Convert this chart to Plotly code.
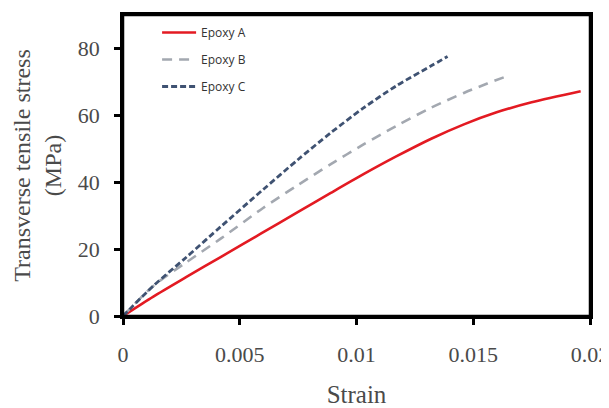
import plotly.graph_objects as go

strain_a = [0, 0.0013, 0.0027, 0.0042, 0.0059, 0.0075, 0.0089, 0.0103, 0.0117, 0.0132, 0.0146, 0.0160, 0.0175, 0.0196]
stress_a = [0, 5.8, 11.6, 17.7, 24.6, 31.1, 36.8, 42.4, 47.7, 53.0, 57.3, 60.9, 63.9, 67.2]

strain_b = [0, 0.0013, 0.0027, 0.0042, 0.006, 0.0075, 0.0089, 0.0103, 0.0117, 0.0132, 0.0146, 0.0156, 0.0164]
stress_b = [0, 9.0, 16.0, 23.2, 32.3, 39.2, 45.4, 51.3, 56.8, 62.3, 66.7, 69.5, 71.6]

strain_c = [0, 0.0013, 0.0027, 0.0042, 0.006, 0.0075, 0.0089, 0.0103, 0.0117, 0.0132, 0.0139]
stress_c = [0, 9.0, 17.5, 26.8, 37.8, 46.8, 54.8, 62.2, 68.8, 74.8, 77.6]

names = ["Epoxy A", "Epoxy B", "Epoxy C"]
x_ticks = [0, 0.005, 0.01, 0.015, 0.02]
x_tick_text = ["0", "0.005", "0.01", "0.015", "0.02"]
y_ticks = [0, 20, 40, 60, 80]

fig = go.Figure()
fig.add_trace(go.Scatter(x=strain_a, y=stress_a, name=names[0], mode="lines", legendgroup="a",
                         line=dict(color="#e31a22", width=2.6, shape="spline", smoothing=0.8)))
fig.add_trace(go.Scatter(x=strain_b, y=stress_b, name=names[1], mode="lines", legendgroup="b",
                         line=dict(color="#a3a8b0", width=2.6, dash="10px,7px", shape="spline", smoothing=0.8)))
fig.add_trace(go.Scatter(x=strain_c, y=stress_c, name=names[2], mode="lines", legendgroup="c",
                         line=dict(color="#3f5272", width=2.8, dash="6px,3px", shape="spline", smoothing=0.8)))

# plot frame (box around the plotting area)
fig.add_shape(type="rect", xref="paper", yref="paper", x0=0, x1=1, y0=0, y1=1,
              line=dict(color="black", width=2.5), fillcolor="rgba(0,0,0,0)", layer="above")

serif = "Liberation Serif, Times New Roman, serif"
txt = "#4a4a4a"
fig.update_layout(
    template="none",
    width=609, height=400,
    margin=dict(l=115, r=27, t=7, b=92, autoexpand=False),
    paper_bgcolor="white", plot_bgcolor="white",
    showlegend=True,
    legend=dict(x=0.073, y=0.99, xanchor="left", yanchor="top", bgcolor="rgba(0,0,0,0)",
                font=dict(family="Open Sans, sans-serif", size=12, color="#333333"),
                tracegroupgap=8, itemwidth=34),
    xaxis=dict(range=[0, 0.02], tickvals=x_ticks, ticktext=x_tick_text, automargin=False,
               showline=True, linecolor="black", linewidth=2.5, mirror=True,
               ticks="outside", ticklen=6, tickwidth=2.5, tickcolor="black",
               showgrid=False, zeroline=False, ticklabelstandoff=11, ticklabeloverflow="allow",
               tickfont=dict(family=serif, size=22, color=txt),
               title=dict(text="Strain", font=dict(family=serif, size=25, color=txt), standoff=23)),
    yaxis=dict(range=[0, 90], tickvals=y_ticks, automargin=False,
               showline=True, linecolor="black", linewidth=2.5, mirror=True,
               ticks="outside", ticklen=6, tickwidth=2.5, tickcolor="black",
               showgrid=False, zeroline=False, ticklabelstandoff=10, ticklabeloverflow="allow",
               tickfont=dict(family=serif, size=22, color=txt),
               title=dict(text="Transverse tensile stress<br>(MPa)",
                          font=dict(family=serif, size=24, color=txt), standoff=10)),
)

fig.write_html("out.html")
